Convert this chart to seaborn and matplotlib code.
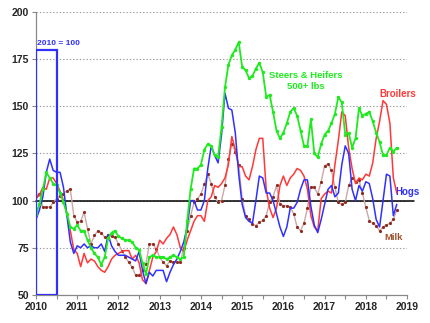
import numpy as np
import pandas as pd
import matplotlib
matplotlib.use("Agg")
import matplotlib.pyplot as plt
from matplotlib.patches import Rectangle
import seaborn as sns

# ---- data (monthly index, 2010 = 100), Jan 2010 - Oct 2018 ----
months = pd.date_range("2010-01-01", periods=106, freq="MS")

steers = [93, 98, 106, 115, 112, 109, 108, 104, 99, 93, 86, 85,
          87, 84, 84, 79, 75, 72, 70, 66, 70, 80, 83, 84,
          81, 80, 79, 79, 78, 75, 74, 67, 61, 70, 71, 70,
          70, 70, 69, 70, 71, 70, 69, 70, 89, 106, 117, 117,
          119, 127, 130, 129, 124, 123, 139, 160, 172, 177, 180, 184,
          171, 169, 165, 166, 170, 173, 168, 155, 156, 147, 137, 133,
          136, 141, 147, 149, 145, 137, 129, 129, 143, 125, 123, 130,
          135, 137, 141, 146, 155, 152, 135, 136, 128, 133, 149, 145,
          146, 147, 142, 136, 131, 124, 124, 128, 126, 128]

hogs = [90, 95, 102, 115, 122, 116, 115, 115, 107, 92, 78, 72,
        76, 75, 77, 75, 76, 75, 75, 77, 73, 82, 76, 73,
        71, 71, 71, 70, 69, 68, 73, 63, 56, 62, 60, 63,
        63, 63, 57, 62, 66, 69, 73, 78, 86, 100, 100, 95,
        95, 100, 117, 129, 124, 120, 135, 157, 149, 148, 136, 114,
        98, 91, 89, 88, 100, 113, 112, 104, 104, 100, 93, 86,
        81, 86, 96, 96, 99, 106, 111, 111, 97, 87, 83, 90,
        98, 106, 108, 102, 104, 119, 129, 125, 106, 100, 108, 105,
        110, 109, 101, 90, 86, 100, 114, 113, 92, 98]

broilers = [101, 103, 107, 106, 112, 112, 109, 105, 100, 93, 84, 74,
            72, 65, 72, 67, 69, 68, 65, 63, 62, 65, 69, 71,
            72, 73, 73.5, 73.5, 69, 71, 67, 58, 56, 63, 70, 73,
            79, 77, 80, 82, 86, 82, 75, 73, 79, 84, 89, 92,
            92, 89, 100, 102, 108, 107, 109, 112, 119, 134, 127, 118,
            118, 113, 111, 118, 127, 133, 133, 106, 96, 91, 96, 108,
            113, 108, 112, 114, 117, 116, 113, 106, 92, 86, 84, 101,
            103.5, 105, 104, 119, 132, 147, 145, 128, 117, 109, 112, 111,
            114, 113, 120, 133, 142, 153, 151, 141, 112, 104]

milk = [102.6, 103.5, 96.5, 96.8, 96.5, 99, 101, 102.6, 103.5, 105.3, 106, 92,
        88.5, 89, 93.8, 85, 77, 81.5, 84, 83, 80.5, 81.5, 81, 80.5,
        77, 73.5, 70, 67.3, 64.7, 60.3, 60.3, 63, 66.4, 77, 77, 74.4,
        70, 67.3, 65.5, 68, 67.3, 67.3, 67.3, 75, 84, 92, 99, 101,
        103.5, 108.8, 114, 109, 102, 99, 100, 108, 122, 130, 126, 119,
        101, 92, 90, 87.6, 86.7, 88.5, 89.5, 92, 99, 102, 108, 98,
        97.3, 97.3, 96.5, 93, 86, 84, 88, 96, 107, 107, 103.5, 110,
        118.5, 119.4, 116, 107, 99, 98, 99, 108, 112, 110, 111, 104,
        96.5, 89.4, 88, 86.7, 84, 86, 87, 88, 90, 95]

years = list(range(2010, 2020))
y_ticks = [50, 75, 100, 125, 150, 175, 200]
base_start, base_end, base_top = 2010, 2010.5, 180

# ---- frame ----
t = months.year + (months.month - 1) / 12.0
df = pd.DataFrame({"t": t, "Steers": steers, "Hogs": hogs,
                   "Broilers": broilers, "Milk": milk})

sns.set_style("white")
plt.rcParams["font.family"] = ["Liberation Sans", "DejaVu Sans"]
plt.rcParams["font.weight"] = "bold"

fig = plt.figure(figsize=(4.31, 3.23), dpi=100)
ax = fig.add_axes([0.0835, 0.087, 0.861, 0.876])

green = "#1EEB1E"
red = "#FF3838"
blue = "#3030FF"
milk_line = "#CDA8A8"
milk_mark = "#8E2A1E"
milk_text = "#A0522D"

sns.lineplot(data=df, x="t", y="Milk", ax=ax, color=milk_line, lw=1.0,
             marker="o", markersize=1.5, markerfacecolor=milk_mark,
             markeredgecolor=milk_mark, zorder=3)
sns.lineplot(data=df, x="t", y="Broilers", ax=ax, color=red, lw=1.1, zorder=4)
sns.lineplot(data=df, x="t", y="Hogs", ax=ax, color=blue, lw=1.1, zorder=5)
sns.lineplot(data=df, x="t", y="Steers", ax=ax, color=green, lw=1.3,
             marker="o", markersize=1.7, markeredgecolor=green, zorder=6)

ax.axhline(100, color="black", lw=1.1, zorder=2, xmax=1.018, clip_on=False)

ax.add_patch(Rectangle((base_start, 50), base_end - base_start, base_top - 50,
                       fill=False, edgecolor=blue, lw=1.6, zorder=7))
ax.text(base_start + 0.02, base_top + 1.5, "2010 = 100",
        color=blue, fontsize=6, fontweight="bold", ha="left", va="bottom")

ax.text(2016.55, 166.5, "Steers & Heifers", color=green, fontsize=6.8,
        fontweight="bold", ha="center", va="center")
ax.text(2016.55, 160.5, "500+ lbs", color=green, fontsize=6.8,
        fontweight="bold", ha="center", va="center")
ax.text(2018.78, 156.5, "Broilers", color=red, fontsize=7,
        fontweight="bold", ha="center", va="center", clip_on=False)
ax.text(2019.0, 104.4, "Hogs", color=blue, fontsize=7,
        fontweight="bold", ha="center", va="center", clip_on=False)
ax.text(2018.68, 80.5, "Milk", color=milk_text, fontsize=6.8,
        fontweight="bold", ha="center", va="center")

ax.set_xlim(2010, 2019)
ax.set_ylim(50, 200)
ax.set_xticks(years)
ax.set_xticklabels([str(y) for y in years], fontsize=7.5, fontweight="bold")
ax.set_xticks([y + 0.5 for y in years[:-1]], minor=True)
ax.set_yticks(y_ticks)
ax.set_yticklabels([str(v) for v in y_ticks], fontsize=7.5, fontweight="bold")
ax.tick_params(axis="x", which="both", direction="out", length=3, width=0.8,
               color="#888888", pad=2, bottom=True)
ax.tick_params(axis="y", direction="out", length=3, width=0.8,
               color="#888888", pad=2, left=True)
ax.set_xlabel("")
ax.set_ylabel("")

ax.yaxis.grid(True, linestyle=(0, (1.2, 1.8)), color="#9a9a9a", lw=0.8)
ax.xaxis.grid(False)
ax.set_axisbelow(True)
for s in ["top", "right"]:
    ax.spines[s].set_visible(False)
for s in ["left", "bottom"]:
    ax.spines[s].set_color("#888888")
    ax.spines[s].set_linewidth(0.9)

fig.savefig("out.png", dpi=100)
